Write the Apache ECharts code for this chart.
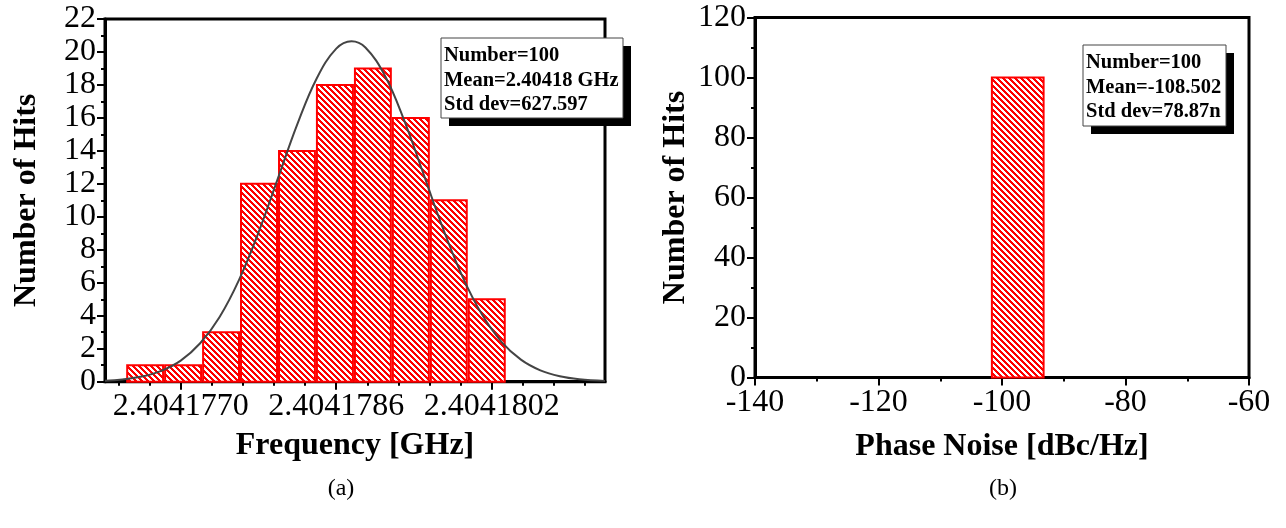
<!DOCTYPE html>
<html><head><meta charset="utf-8">
<script src="https://cdn.jsdelivr.net/npm/echarts@6/dist/echarts.min.js"></script>
<style>html,body{margin:0;padding:0;background:#fff}#c{width:1286px;height:528px}</style>
</head><body><div id="c"></div>
<script>
// ---------- (a) Frequency histogram ----------
// x values are in units of 1e-7 GHz, relative to 2.4041770 GHz
const freqBinEdges = [-5.61, -1.71, 2.20, 6.10, 10.01, 13.91, 17.82, 21.72, 25.63, 29.53, 33.44];
const freqHits = [1, 1, 3, 12, 14, 18, 19, 16, 11, 5];
const fitX = [-7.79, -6, -4, -2, 0, 2, 4, 6, 8, 10, 12, 14, 16, 17.57, 19, 21, 23, 25, 27, 29, 31, 33, 35, 37, 39, 41, 43.65];
const fitY = [0.06, 0.14, 0.31, 0.66, 1.28, 2.33, 3.93, 6.18, 9.05, 12.33, 15.62, 18.41, 20.20, 20.65, 20.27, 18.57, 15.83, 12.56, 9.27, 6.36, 4.07, 2.42, 1.34, 0.69, 0.33, 0.15, 0.05];
const freqTickValues = [0, 16, 32];
const freqTickLabels = ['2.4041770', '2.4041786', '2.4041802'];
const freqMinorTicks = [-6.4, -3.2, 3.2, 6.4, 9.6, 12.8, 19.2, 22.4, 25.6, 28.8, 35.2, 38.4, 41.6];
const freqAxisRange = [-7.79, 43.65];
const statsA = ['Number=100', 'Mean=2.40418 GHz', 'Std dev=627.597'];

// ---------- (b) Phase noise histogram ----------
const pnBinEdges = [-101.8, -93.1];
const pnHits = [100];
const statsB = ['Number=100', 'Mean=-108.502', 'Std dev=78.87n'];

const FONT = '"Liberation Serif", "Times New Roman", serif';

function makeHatch() {
  const n = 6;
  const c = document.createElement('canvas');
  c.width = n; c.height = n;
  const g = c.getContext('2d');
  const img = g.createImageData(n, n);
  for (let y = 0; y < n; y++) {
    for (let x = 0; x < n; x++) {
      const red = (((x - y) % n) + n) % n < 3;
      const k = (y * n + x) * 4;
      img.data[k] = 255;
      img.data[k + 1] = red ? 0 : 255;
      img.data[k + 2] = red ? 0 : 255;
      img.data[k + 3] = 255;
    }
  }
  g.putImageData(img, 0, 0);
  return c;
}
const hatch = makeHatch();

function renderBin(params, api) {
  const l = api.value(0), r = api.value(1), v = api.value(2);
  const p0 = api.coord([l, v]);
  const p1 = api.coord([r, 0]);
  return {
    type: 'rect',
    shape: { x: p0[0] + 1, y: p0[1], width: p1[0] - p0[0] - 2, height: p1[1] - p0[1] },
    style: { fill: { image: hatch, repeat: 'repeat' }, stroke: '#ff0000', lineWidth: 2 }
  };
}

const freqBins = freqHits.map((h, i) => [freqBinEdges[i], freqBinEdges[i + 1], h]);
const pnBins = pnHits.map((h, i) => [pnBinEdges[i], pnBinEdges[i + 1], h]);
const fitData = fitX.map((x, i) => [x, fitY[i]]);

const axisLine = { show: true, onZero: false, lineStyle: { color: '#000', width: 3 } };
const tickStyle = { show: true, inside: false, length: 8, lineStyle: { color: '#000', width: 2 } };
const minorStyle = { show: true, splitNumber: 2, length: 4, lineStyle: { color: '#000', width: 2 } };
const lblStyle = { color: '#000', fontFamily: FONT, fontSize: 32 };
const nameStyle = { color: '#000', fontFamily: FONT, fontSize: 32, fontWeight: 'bold' };

function statsBox(x, y, w, h, lines) {
  return [
    { type: 'rect', z: 100, shape: { x: x + 8, y: y + 8, width: w, height: h }, style: { fill: '#000' } },
    { type: 'rect', z: 101, shape: { x: x, y: y, width: w, height: h }, style: { fill: '#fff', stroke: '#444', lineWidth: 1 } },
    ...lines.map((t, i) => ({
      type: 'text', z: 102, x: x + 3, y: y + 18 + i * 24.5,
      style: { text: t, fill: '#000', font: 'bold 20.5px ' + FONT, textVerticalAlign: 'middle', verticalAlign: 'middle' }
    }))
  ];
}

const chart = echarts.init(document.getElementById('c'), null, { renderer: 'canvas' });
chart.setOption({
  animation: false,
  backgroundColor: '#fff',
  grid: [
    { left: 105, right: 681, top: 19, bottom: 146.3, show: true, borderColor: '#000', borderWidth: 3, backgroundColor: 'transparent' },
    { left: 755, right: 37, top: 17.5, bottom: 150.5, show: true, borderColor: '#000', borderWidth: 3, backgroundColor: 'transparent' }
  ],
  xAxis: [
    {
      type: 'value', gridIndex: 0, min: freqAxisRange[0], max: freqAxisRange[1],
      axisLine: axisLine,
      axisTick: Object.assign({}, tickStyle, { customValues: freqTickValues }),
      axisLabel: Object.assign({}, lblStyle, {
        margin: 9, customValues: freqTickValues,
        formatter: v => { const i = freqTickValues.indexOf(v); return i >= 0 ? freqTickLabels[i] : ''; }
      }),
      splitLine: { show: false },
      name: 'Frequency [GHz]', nameLocation: 'middle', nameGap: 48, nameTextStyle: nameStyle
    },
    {
      type: 'value', gridIndex: 0, min: freqAxisRange[0], max: freqAxisRange[1], position: 'bottom',
      axisLine: { show: false },
      axisTick: Object.assign({}, tickStyle, { length: 4, customValues: freqMinorTicks }),
      axisLabel: { show: false }, splitLine: { show: false }
    },
    {
      type: 'value', gridIndex: 1, min: -140, max: -60, interval: 20,
      axisLine: axisLine, axisTick: tickStyle, minorTick: minorStyle,
      axisLabel: Object.assign({}, lblStyle, { margin: 9 }),
      splitLine: { show: false }, minorSplitLine: { show: false },
      name: 'Phase Noise [dBc/Hz]', nameLocation: 'middle', nameGap: 53, nameTextStyle: nameStyle
    }
  ],
  yAxis: [
    {
      type: 'value', gridIndex: 0, min: 0, max: 22, interval: 2,
      axisLine: axisLine, axisTick: tickStyle, minorTick: minorStyle,
      axisLabel: Object.assign({}, lblStyle, { margin: 9 }),
      splitLine: { show: false }, minorSplitLine: { show: false },
      name: 'Number of Hits', nameLocation: 'middle', nameGap: 62, nameRotate: 90, nameTextStyle: nameStyle
    },
    {
      type: 'value', gridIndex: 1, min: 0, max: 120, interval: 20,
      axisLine: axisLine, axisTick: tickStyle, minorTick: minorStyle,
      axisLabel: Object.assign({}, lblStyle, { margin: 9 }),
      splitLine: { show: false }, minorSplitLine: { show: false },
      name: 'Number of Hits', nameLocation: 'middle', nameGap: 63, nameRotate: 90, nameTextStyle: nameStyle
    }
  ],
  series: [
    { type: 'custom', xAxisIndex: 0, yAxisIndex: 0, renderItem: renderBin, data: freqBins, encode: { x: [0, 1], y: 2 }, z: 2 },
    { type: 'line', xAxisIndex: 0, yAxisIndex: 0, data: fitData, smooth: 0.4, showSymbol: false, symbol: 'none',
      lineStyle: { color: '#444', width: 2 }, z: 3 },
    { type: 'custom', xAxisIndex: 2, yAxisIndex: 1, renderItem: renderBin, data: pnBins, encode: { x: [0, 1], y: 2 }, z: 2 }
  ],
  graphic: [
    ...statsBox(441, 38, 182, 80, statsA),
    ...statsBox(1083, 45, 143, 81, statsB),
    { type: 'text', x: 341, y: 489, style: { text: '(a)', fill: '#000', font: '24px ' + FONT, textAlign: 'center', textVerticalAlign: 'middle', align: 'center', verticalAlign: 'middle' } },
    { type: 'text', x: 1003, y: 489, style: { text: '(b)', fill: '#000', font: '24px ' + FONT, textAlign: 'center', textVerticalAlign: 'middle', align: 'center', verticalAlign: 'middle' } }
  ]
});
</script>
</body></html>
